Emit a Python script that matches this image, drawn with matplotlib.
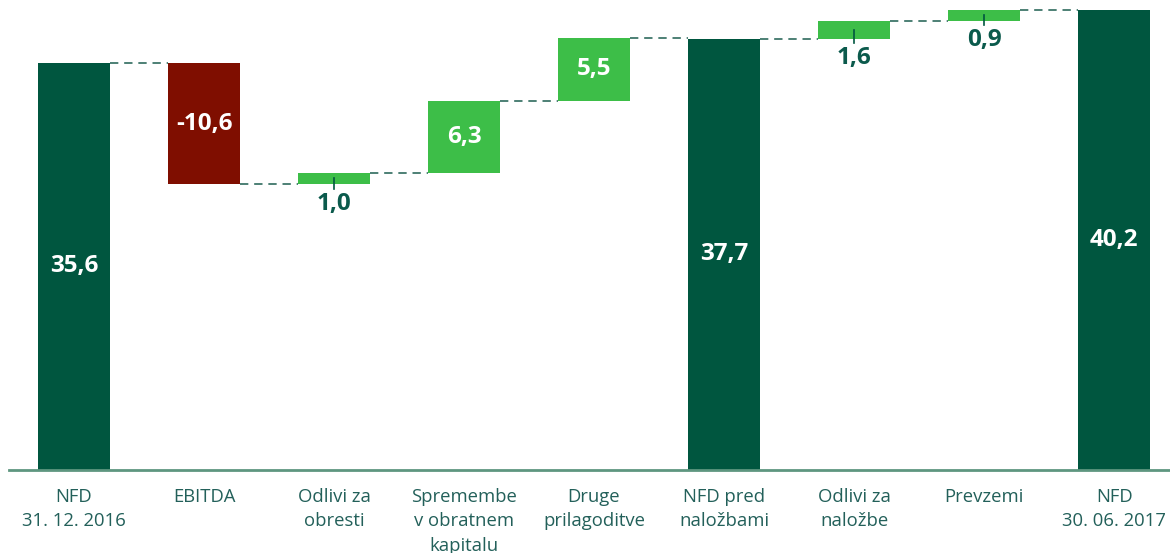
import matplotlib
matplotlib.use("Agg")
import matplotlib.pyplot as plt
import numpy as np

categories = ["NFD\n31. 12. 2016", "EBITDA", "Odlivi za\nobresti",
              "Spremembe\nv obratnem\nkapitalu", "Druge\nprilagoditve",
              "NFD pred\nnaložbami", "Odlivi za\nnaložbe", "Prevzemi",
              "NFD\n30. 06. 2017"]
values = [35.6, -10.6, 1.0, 6.3, 5.5, 37.7, 1.6, 0.9, 40.2]
is_total = [True, False, False, False, False, True, False, False, True]
label_inside = [True, True, False, True, True, True, False, False, True]

DARK = "#00563F"
RED = "#7F0E00"
LIGHT = "#3DBE48"
TEXT = "#23605A"

plt.rcParams["font.family"] = ["Open Sans", "DejaVu Sans"]

fig = plt.figure(figsize=(11.7, 5.53), dpi=100)
ax = fig.add_axes([9 / 1170, 83 / 553, 1 - 9 / 1170, 1 - 83 / 553])

x = np.arange(len(values))
width = 0.555
level = 0.0
for i, (v, tot) in enumerate(zip(values, is_total)):
    if tot:
        bottom, height, color = 0.0, v, DARK
        end = v
    else:
        bottom = level + min(v, 0)
        height = abs(v)
        color = RED if v < 0 else LIGHT
        end = level + v
    ax.bar(x[i], height, width, bottom=bottom, color=color, zorder=2)

    # dashed connector to the next bar
    if i < len(values) - 1:
        ax.plot([x[i] + width / 2, x[i + 1] - width / 2], [end, end],
                color="#2F6B5E", linestyle=(0, (5, 3.5)), linewidth=1.2, zorder=1)

    txt = f"{v:.1f}".replace(".", ",")
    if label_inside[i]:
        ax.text(x[i], bottom + height / 2, txt, ha="center", va="center",
                color="white", fontsize=17.5, fontweight="bold")
    else:
        mid = bottom + height / 2
        ax.plot([x[i], x[i]], [mid, bottom - 0.4], color=DARK,
                linewidth=1.2, zorder=3)
        ax.text(x[i], bottom - 0.65, txt, ha="center", va="top",
                color="#0B5A4C", fontsize=17.5, fontweight="bold")
    level = end

ax.set_xlim(-0.5, 8.43)
ax.set_ylim(0, 41.1)
for side in ["top", "right", "left"]:
    ax.spines[side].set_visible(False)
ax.spines["bottom"].set_color("#5E9680")
ax.spines["bottom"].set_linewidth(2)
ax.set_yticks([])
ax.set_xticks(x)
ax.set_xticklabels(categories, color=TEXT, fontsize=13.3, linespacing=1.45)
ax.tick_params(axis="x", length=0, pad=13)

fig.savefig("out.png", dpi=100)
